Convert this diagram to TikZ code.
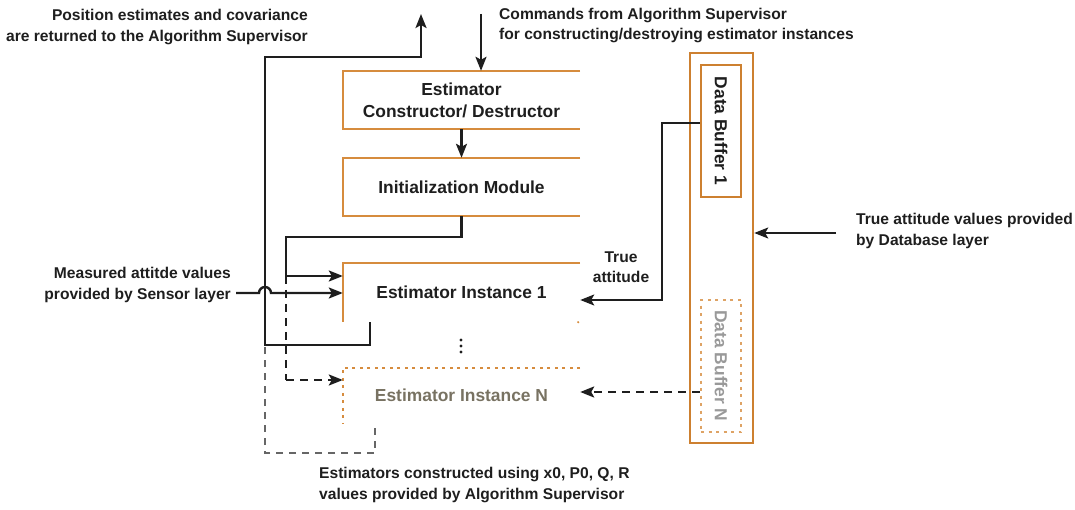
\documentclass[tikz,border=0pt]{standalone}
\usepackage{fontspec}
\setmainfont{Liberation Sans}
\usetikzlibrary{arrows.meta,calc}
\definecolor{org}{RGB}{214,140,62}
\definecolor{orgdark}{RGB}{205,128,48}
\definecolor{ink}{RGB}{30,30,30}
\definecolor{grayN}{RGB}{120,114,98}
\begin{document}
\begin{tikzpicture}[x=1pt,y=-1pt,
  lbl/.style={font=\bfseries\fontsize{15.6}{20.5}\selectfont, inner sep=0pt, text=ink},
  boxnode/.style={font=\bfseries\fontsize{17.4}{23}\selectfont, inner sep=0pt, minimum width=237pt, align=center, text=ink},
  obox/.style={draw=org, line width=2.2pt},
  dbox/.style={draw=org, line width=2.2pt, dash pattern=on 3pt off 4.5pt},
  conn/.style={draw=ink, line width=2.4pt},
  dconn/.style={draw=ink, line width=2.4pt, dash pattern=on 8pt off 6pt},
  gconn/.style={draw=black!60, line width=2.4pt, dash pattern=on 7pt off 6pt},
  arr/.style={-{Stealth[length=14pt,width=11pt,inset=3pt]}}
]
\useasboundingbox (0,0) rectangle (1075,510);

% boxes
\node[boxnode, minimum height=58pt] (ctor) at (461.5,100) {Estimator\\[-1pt]Constructor/ Destructor};
\node[boxnode, minimum height=58pt] (init) at (461.5,187) {Initialization Module};
\node[boxnode, minimum height=59pt] (inst1) at (461.5,292.5) {Estimator Instance 1};
\node[boxnode, minimum height=55pt, text=grayN] (instN) at (461.5,395.5) {Estimator Instance N};

\draw[obox] (ctor.north east) -- (ctor.north west) -- (ctor.south west) -- (ctor.south east);
\draw[obox] (init.north east) -- (init.north west) -- (init.south west) -- (init.south east);
\draw[obox] (inst1.north east) -- (inst1.north west) -- (inst1.south west);
\fill[org] ($(inst1.south east)+(-2,0)$) circle (1.2pt);
\draw[dbox] (instN.north east) -- (instN.north west) -- (instN.south west);

% vertical dots
\coordinate (dots) at (461,346);
\fill[ink] ($(dots)+(0,-6)$) circle (1.7pt) (dots) circle (1.7pt) ($(dots)+(0,6)$) circle (1.7pt);

% data buffers
\node[draw=orgdark, line width=2.4pt, minimum width=63pt, minimum height=390pt, inner sep=0pt] (cont) at (721.5,248) {};
\node[draw=orgdark, line width=2.4pt, minimum width=40pt, minimum height=132pt, inner sep=0pt] (db1) at (721,131) {};
\node[rotate=-90, font=\bfseries\fontsize{17.4}{17}\selectfont, text=ink, inner sep=0pt] (db1t) at (db1.center) {Data Buffer 1};
\node[dbox, draw=org!80, minimum width=40pt, minimum height=132pt, inner sep=0pt] (dbN) at (721,366) {};
\node[rotate=-90, font=\bfseries\fontsize{17.4}{17}\selectfont, text=black!40, inner sep=0pt] (dbNt) at (dbN.center) {Data Buffer N};

% labels
\node[lbl, anchor=east, align=right] (pos) at (308,27) {Position estimates and covariance\\are returned to the Algorithm Supervisor};
\node[lbl, anchor=west, align=left] (cmd) at (499,25.5) {Commands from Algorithm Supervisor\\for constructing/destroying estimator instances};
\node[lbl, anchor=east, align=right] (sens) at (231,285) {Measured attitde values\\provided by Sensor layer};
\node[lbl, anchor=west, align=left] (dbl) at (856,231) {True attitude values provided\\by Database layer};
\node[lbl, anchor=west, align=left] (est) at (319,485) {Estimators constructed using x0, P0, Q, R\\values provided by Algorithm Supervisor};
\node[lbl, align=center] (ta) at (621,267) {True\\attitude};

% coordinates
\coordinate (cmdtop) at (481,14);
\coordinate (ret) at (421,14);
\coordinate (j1) at (286,237);
\coordinate (j2) at (286,276);
\coordinate (j3) at (286,380);
\coordinate (s0) at (236,293);
\coordinate (r1) at (370,322);
\coordinate (r2) at (370,345);
\coordinate (r3) at (265,345);
\coordinate (r4) at (265,57);
\coordinate (n1) at (375,428);
\coordinate (n2) at (375,453);
\coordinate (n3) at (265,453);
\coordinate (t1) at (662,123);
\coordinate (t2) at (662,300);
\coordinate (tn) at (700,392);
\coordinate (dbs) at (836,233);

% connectors
\draw[conn, arr] (cmdtop) -- (cmdtop |- ctor.north);
\draw[conn, arr] (ctor.south) -- (init.north);
\draw[conn] (init.south) |- (j1) -- (j2);
\draw[conn, arr] (j2) -- (j2 -| inst1.west);
\draw[dconn] (j2) -- (j3);
\draw[dconn, arr] (j3) -- (j3 -| instN.west);
\draw[conn, arr] (s0) -- (259,293) arc[start angle=180, end angle=360, radius=6] -- (s0 -| inst1.west);
\draw[conn, arr] (r1) -- (r2) -- (r3) -- (r4) -| (ret);
\draw[gconn] (n1) -- (n2) -- (n3) -- (r3);
\draw[conn, line width=2pt, arr] (t1 -| db1.west) -- (t1) -- (t2) -- (t2 -| inst1.east);
\draw[dconn, arr] (tn -| dbN.west) -- (tn -| instN.east);
\draw[conn, line width=2pt, arr] (dbs) -- (dbs -| cont.east);
\end{tikzpicture}
\end{document}
